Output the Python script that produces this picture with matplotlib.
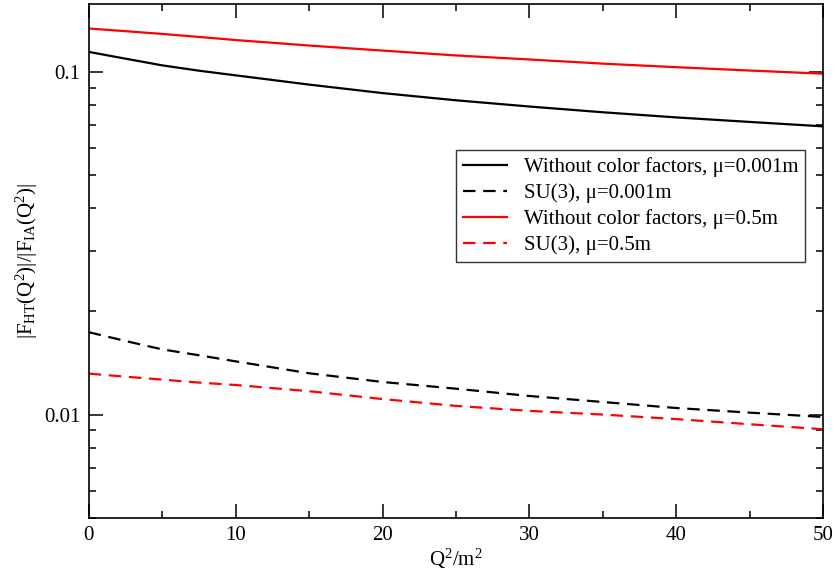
import matplotlib.pyplot as plt
from matplotlib.ticker import LogLocator, FixedLocator, NullFormatter, MultipleLocator

plt.rcParams['font.family'] = ['Liberation Serif', 'DejaVu Serif']
plt.rcParams['mathtext.fontset'] = 'custom'
plt.rcParams['mathtext.rm'] = 'Liberation Serif'
plt.rcParams['mathtext.it'] = 'Liberation Serif'
plt.rcParams['lines.scale_dashes'] = False

# data
q2 = [0, 2.5, 5, 7.5, 10, 15, 20, 25, 30, 35, 40, 45, 50]
nocol_001 = [0.1145, 0.1094, 0.1046, 0.1009, 0.0978, 0.0919, 0.0868, 0.0827, 0.0793, 0.0763, 0.0737, 0.0715, 0.0694]
su3_001 = [0.0174, 0.0164, 0.0155, 0.0149, 0.0143, 0.0132, 0.01245, 0.0119, 0.01133, 0.01088, 0.01045, 0.01013, 0.00984]
nocol_05 = [0.134, 0.1316, 0.1292, 0.1266, 0.124, 0.1195, 0.1155, 0.1118, 0.1088, 0.1058, 0.1033, 0.101, 0.0989]
su3_05 = [0.01317, 0.0129, 0.01265, 0.0124, 0.0122, 0.0117, 0.0111, 0.0106, 0.01025, 0.0100, 0.0097, 0.00937, 0.00906]

labels = ['Without color factors, μ=0.001m', 'SU(3), μ=0.001m',
          'Without color factors, μ=0.5m', 'SU(3), μ=0.5m']

fig = plt.figure(figsize=(8.36, 5.77), dpi=100)
ax = fig.add_axes([0.1061, 0.1028, 0.8787, 0.8903])

lw = 1.6
dash = (9, 5.5)
ax.plot(q2, nocol_001, color='black', lw=lw, label=labels[0])
ax.plot(q2, su3_001, color='black', lw=lw, dashes=dash, label=labels[1])
ax.plot(q2, nocol_05, color='red', lw=lw, label=labels[2])
ax.plot(q2, su3_05, color='red', lw=lw, dashes=dash, label=labels[3])

ax.set_yscale('log')
ax.set_xlim(0, 50)
ax.set_ylim(0.005, 0.158)

ax.xaxis.set_major_locator(MultipleLocator(10))
ax.xaxis.set_minor_locator(MultipleLocator(5))
ax.yaxis.set_major_locator(FixedLocator([0.01, 0.1]))
ax.yaxis.set_major_formatter(plt.FixedFormatter(['0.01', '0.1']))
ax.yaxis.set_minor_locator(LogLocator(base=10, subs=range(2, 10)))
ax.yaxis.set_minor_formatter(NullFormatter())

ax.tick_params(which='both', direction='in', top=True, right=True, width=1.1, labelsize=15)
ax.tick_params(which='major', length=10, pad=6)
ax.tick_params(which='minor', length=5)
for s in ax.spines.values():
    s.set_linewidth(1.2)

ax.set_xlabel(r'$\mathrm{Q^2/m^2}$', fontsize=15, labelpad=1)
ax.set_ylabel(r'$\mathrm{|F_{HT}(Q^2)|/|F_{IA}(Q^2)|}$', fontsize=15, labelpad=3)

leg = ax.legend(loc='upper left', bbox_to_anchor=(0.5, 0.716), borderaxespad=0,
                fontsize=15, frameon=True, fancybox=False, handlelength=2.1,
                labelspacing=0.3, borderpad=0.35, handletextpad=0.8)
leg.get_frame().set_edgecolor('black')
leg.get_frame().set_linewidth(1.0)

fig.savefig('out.png', dpi=100)
